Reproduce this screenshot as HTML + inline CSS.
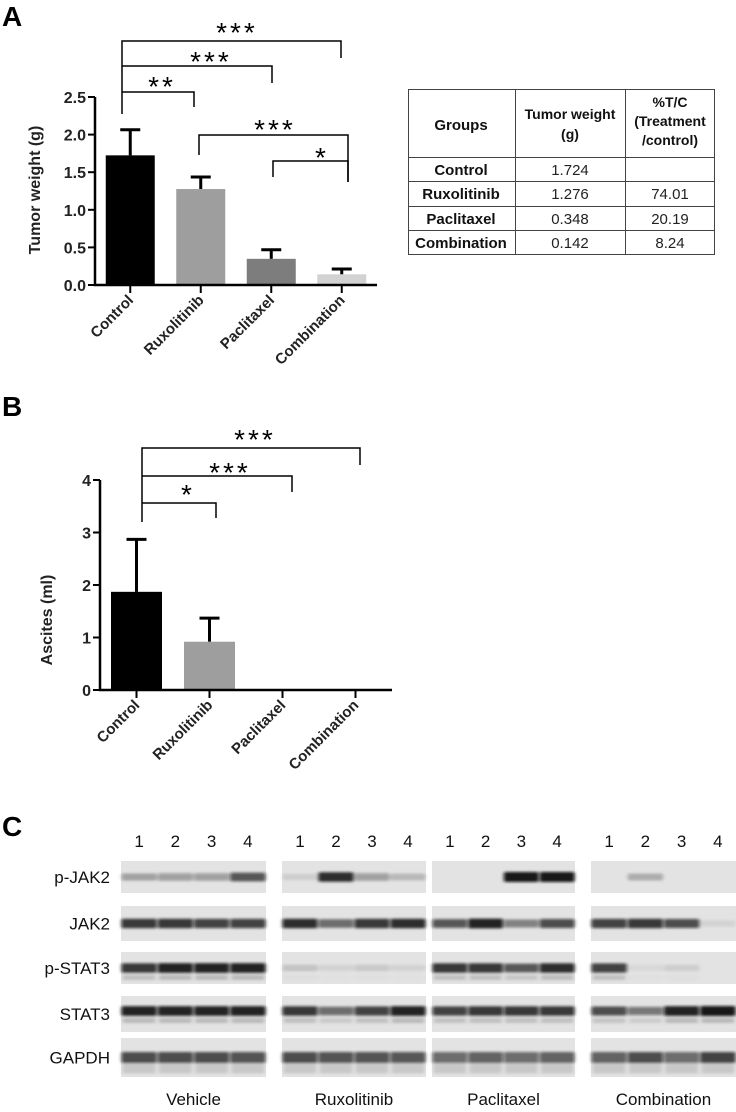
<!DOCTYPE html>
<html><head><meta charset="utf-8"><style>
body{margin:0;background:#fff;width:736px;height:1112px;overflow:hidden;font-family:"Liberation Sans",sans-serif}
svg{position:absolute;left:0;top:0}
</style></head><body>
<svg id="fig" width="736" height="1112" viewBox="0 0 736 1112">
<defs><filter id="blur" x="-20%" y="-100%" width="140%" height="300%"><feGaussianBlur stdDeviation="1.8 1.3"/></filter></defs>
<text x="2" y="26" font-size="28" font-weight="bold">A</text>
<text x="2" y="416" font-size="28" font-weight="bold">B</text>
<text x="2" y="836" font-size="28" font-weight="bold">C</text>
<g id="chartA"></g>
<g id="chartB"></g>
<g id="table" font-family="Liberation Sans, sans-serif" font-size="15">
<rect x="408.5" y="89.5" width="306" height="165" fill="none" stroke="#444"/>
<line x1="408" y1="157.5" x2="715" y2="157.5" stroke="#444"/>
<line x1="408" y1="181.5" x2="715" y2="181.5" stroke="#444"/>
<line x1="408" y1="206.5" x2="715" y2="206.5" stroke="#444"/>
<line x1="408" y1="230.5" x2="715" y2="230.5" stroke="#444"/>
<line x1="515.5" y1="89" x2="515.5" y2="255" stroke="#444"/>
<line x1="625.5" y1="89" x2="625.5" y2="255" stroke="#444"/>
<g font-weight="bold" text-anchor="middle" fill="#111">
<text x="461" y="130">Groups</text>
<text x="570" y="119" font-size="14"><tspan x="570">Tumor weight</tspan><tspan x="570" dy="20">(g)</tspan></text>
<text x="670" y="107" font-size="14"><tspan x="670">%T/C</tspan><tspan x="670" dy="19">(Treatment</tspan><tspan x="670" dy="19">/control)</tspan></text>
<text x="461" y="175">Control</text><text x="461" y="199">Ruxolitinib</text><text x="461" y="224">Paclitaxel</text><text x="461" y="248">Combination</text>
</g>
<g text-anchor="middle" fill="#222">
<text x="570" y="175">1.724</text><text x="570" y="199">1.276</text><text x="570" y="224">0.348</text><text x="570" y="248">0.142</text>
<text x="670" y="199">74.01</text><text x="670" y="224">20.19</text><text x="670" y="248">8.24</text>
</g>
</g>
<g id="blots"></g>
</svg>
<script>
const NS="http://www.w3.org/2000/svg";
function mk(p,t,a){const e=document.createElementNS(NS,t);for(const k in a)e.setAttribute(k,a[k]);p.appendChild(e);return e;}

// Panel A data
const catsA=["Control","Ruxolitinib","Paclitaxel","Combination"];
const valsA=[1.724,1.276,0.348,0.142];
const errA=[0.34,0.16,0.12,0.07];
const colorsA=["#000","#9e9e9e","#7d7d7d","#d2d2d2"];
const ticksA=[0,0.5,1.0,1.5,2.0,2.5];
// Panel B data
const catsB=["Control","Ruxolitinib","Paclitaxel","Combination"];
const valsB=[1.87,0.92,0,0];
const errB=[1.0,0.45,0,0];
const colorsB=["#000","#9e9e9e","#7d7d7d","#d2d2d2"];
const ticksB=[0,1,2,3,4];

function chart(g,cfg){
  const y=v=>cfg.y0-(v-cfg.min)*(cfg.y0-cfg.y1)/(cfg.max-cfg.min);
  const x=i=>cfg.x0+cfg.step*(i+0.5);
  cfg.vals.forEach((v,i)=>{
    const cx=x(i);
    if(cfg.errs[i]>0){
      const el=mk(g,"path",{d:`M${cx} ${y(v)}V${y(v+cfg.errs[i])}M${cx-10} ${y(v+cfg.errs[i])}H${cx+10}`,stroke:"#000","stroke-width":3,fill:"none"});
      
      
    }
    const b=mk(g,"rect",{x:cx-cfg.bw/2,y:y(v),width:cfg.bw,height:y(0)-y(v),fill:cfg.colors[i]});
    
    
    mk(g,"line",{x1:cx,x2:cx,y1:y(0),y2:y(0)+8,stroke:"#000","stroke-width":2});
    const t=mk(g,"text",{x:cx+4,y:y(0)+16,"font-size":15,"font-weight":"bold","text-anchor":"end",transform:`rotate(-45 ${cx+4} ${y(0)+16})`,fill:"#222"});
    t.textContent=cfg.cats[i];
    
    
  });
  mk(g,"path",{d:`M${cfg.x0} ${y(cfg.max)}V${y(0)}H${cfg.xend}`,stroke:"#000","stroke-width":2.5,fill:"none"});
  cfg.ticks.forEach(tv=>{
    mk(g,"line",{x1:cfg.x0-7,x2:cfg.x0,y1:y(tv),y2:y(tv),stroke:"#000","stroke-width":2});
    const t=mk(g,"text",{x:cfg.x0-9,y:y(tv)+6,"font-size":16,"font-weight":"bold","text-anchor":"end",fill:"#222"});
    t.textContent=cfg.fmt(tv);
    
    
  });
  const yl=mk(g,"text",{x:cfg.ylx,y:cfg.yly,"font-size":16,"font-weight":"bold","text-anchor":"middle",transform:`rotate(-90 ${cfg.ylx} ${cfg.yly})`,fill:"#222"});
  yl.textContent=cfg.ylabel;
  
  
  cfg.brackets.forEach(br=>{
    mk(g,"path",{d:`M${br[0]} ${br[3]}V${br[2]}H${br[1]}V${br[4]}`,stroke:"#000","stroke-width":1.5,fill:"none"});
    const s=mk(g,"text",{x:br[5]+2,y:br[6],"font-size":28,"text-anchor":"middle","letter-spacing":"3"});
    s.textContent=br[7];
    
    
  });
}
chart(document.getElementById("chartA"),{cats:catsA,vals:valsA,errs:errA,colors:colorsA,ticks:ticksA,min:0,max:2.5,
 y0:285,y1:97,x0:95,step:70.5,bw:49,xend:377,fmt:v=>v.toFixed(1),ylabel:"Tumor weight (g)",ylx:40,yly:190,
 brackets:[[122,341,41,114,58,235,42,"***"],[122,272,66,66,83,209,71,"***"],[122,194,92,92,107,160,96,"**"],
           [199,348,135,155,182,273,139,"***"],[273,348,161,177,182,320,167,"*"]]});
chart(document.getElementById("chartB"),{cats:catsB,vals:valsB,errs:errB,colors:colorsB,ticks:ticksB,min:0,max:4,
 y0:690,y1:480,x0:100,step:73,bw:51,xend:392,fmt:v=>String(v),ylabel:"Ascites (ml)",ylx:52,yly:620,
 brackets:[[142,360,448,522,465,253,449,"***"],[142,292,476,476,492,228,482,"***"],[142,216,503,503,518,186,504,"*"]]});

// Panel C data
const groups=["Vehicle","Ruxolitinib","Paclitaxel","Combination"];
const proteins=["p-JAK2","JAK2","p-STAT3","STAT3","GAPDH"];
const pJAK2=[[0.3,0.35,0.35,0.7],[0.1,0.9,0.35,0.2],[0,0,1,1],[0,0.25,0,0]];
const JAK2=[[0.85,0.85,0.8,0.8],[0.9,0.6,0.85,0.9],[0.7,0.95,0.5,0.75],[0.8,0.85,0.75,0.08]];
const pSTAT3=[[0.85,0.95,0.95,0.95],[0.15,0.08,0.12,0.08],[0.85,0.85,0.7,0.9],[0.8,0.05,0.1,0]];
const STAT3=[[0.95,0.95,0.95,0.95],[0.85,0.6,0.8,0.95],[0.8,0.85,0.85,0.85],[0.75,0.55,0.95,1]];
const GAPDH=[[0.75,0.75,0.75,0.72],[0.75,0.72,0.72,0.7],[0.6,0.65,0.6,0.65],[0.65,0.75,0.6,0.8]];
const rowsData=[pJAK2,JAK2,pSTAT3,STAT3,GAPDH];

const bl=document.getElementById("blots");
const panelX=[[121,266],[282,426],[432,575],[591,736]];
const rowY=[[861,893],[906,941],[952,984],[996,1032],[1038,1077]];
proteins.forEach((p,r)=>{
  const t=mk(bl,"text",{x:110,y:(rowY[r][0]+rowY[r][1])/2+6,"font-size":17,"text-anchor":"end",fill:"#111"});
  t.textContent=p;
  
  
});
groups.forEach((gname,gi)=>{
  const [xa,xb]=panelX[gi];
  const lw=(xb-xa)/4;
  for(let l=0;l<4;l++){
    const n=mk(bl,"text",{x:xa+lw*(l+0.5),y:847,"font-size":17,"text-anchor":"middle",fill:"#111"});
    n.textContent=String(l+1);
    
    
  }
  const gl=mk(bl,"text",{x:(xa+xb)/2,y:1105,"font-size":17,"text-anchor":"middle",fill:"#111"});
  gl.textContent=gname;
  
  
  rowsData.forEach((rd,r)=>{
    const [ya,yb]=rowY[r];
    const bg=mk(bl,"rect",{x:xa,y:ya,width:xb-xa,height:yb-ya,fill:"#e3e3e3"});
    
    
    rd[gi].forEach((v,l)=>{
      if(v<=0)return;
      const cx=xa+lw*(l+0.5), cy=(ya+yb)/2+ (r===3?-3:0);
      const h=r===4?11:6+v*4;
      const band=mk(bl,"rect",{x:cx-lw*0.49,y:cy-h/2,width:lw*0.98,height:h,rx:2,fill:"#111","fill-opacity":v*0.95,filter:"url(#blur)"});
      
      
      if(r===3||r===2){
        mk(bl,"rect",{x:cx-lw*0.45,y:cy+7,width:lw*0.9,height:5,fill:"#555","fill-opacity":v*0.3,filter:"url(#blur)"});
      }
      if(r===4){
        mk(bl,"rect",{x:cx-lw*0.45,y:cy+6,width:lw*0.9,height:10,fill:"#777","fill-opacity":0.25,filter:"url(#blur)"});
      }
    });
  });
});
</script>
</body></html>
